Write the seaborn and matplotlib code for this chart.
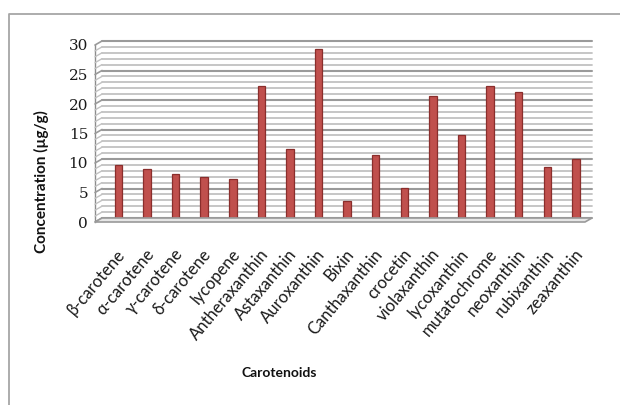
import matplotlib
matplotlib.use("Agg")
import matplotlib.pyplot as plt
import matplotlib.transforms as mtransforms
from matplotlib.lines import Line2D
from matplotlib.patches import Polygon
import seaborn as sns
import pandas as pd

carotenoids = ["β-carotene", "α-carotene", "γ-carotene", "δ-carotene", "lycopene",
               "Antheraxanthin", "Astaxanthin", "Auroxanthin", "Bixin", "Canthaxanthin",
               "crocetin", "violaxanthin", "lycoxanthin", "mutatochrome", "neoxanthin",
               "rubixanthin", "zeaxanthin"]
concentration = [9.7, 9.0, 8.2, 7.7, 7.3, 23.1, 12.4, 29.3, 3.6, 11.4,
                 5.8, 21.3, 14.8, 23.1, 22.0, 9.3, 10.7]
y_ticks = [0, 5, 10, 15, 20, 25, 30]

df = pd.DataFrame({"Carotenoids": carotenoids, "Concentration": concentration})

sns.set_theme(style="white")
plt.rcParams["font.family"] = ["Lato", "DejaVu Sans"]

W, H = 620, 405
fig = plt.figure(figsize=(W / 100, H / 100), dpi=100)

# axes placed by pixel position of the front edge of the chart box
ax_left, ax_right, ax_bottom, ax_top = 95, 585, 222, 45
ax = fig.add_axes([ax_left / W, 1 - ax_bottom / H,
                   (ax_right - ax_left) / W, (ax_bottom - ax_top) / H])

x0, x1 = -0.82, 16.32
ax.set_xlim(x0, x1)
ax.set_ylim(0, 30)

# depth offset of the back wall (pixels right / up)
dx, dy = 7, 4
back = ax.transData + mtransforms.ScaledTranslation(dx / 100, dy / 100, fig.dpi_scale_trans)

# back wall gridlines, one per unit, with the matching side wall diagonals
for v in range(0, 31):
    major = v % 5 == 0
    col = "#9a9a9a" if major else "#c2c2c2"
    ax.plot([x0, x1], [v, v], transform=back, clip_on=False,
            color=col, lw=1.5 if major else 1.3, zorder=0.5)
    p_front = ax.transData.transform((x0, v))
    p_back = back.transform((x0, v))
    fig.add_artist(Line2D([p_front[0] / W, p_back[0] / W],
                          [p_front[1] / H, p_back[1] / H],
                          color=col, lw=1.2 if major else 1.0, zorder=0.5))

# floor
pf0 = ax.transData.transform((x0, 0))
pf1 = ax.transData.transform((x1, 0))
pb1 = back.transform((x1, 0))
pb0 = back.transform((x0, 0))
floor = Polygon([[pf0[0] / W, pf0[1] / H], [pf1[0] / W, pf1[1] / H],
                 [pb1[0] / W, pb1[1] / H], [pb0[0] / W, pb0[1] / H]],
                closed=True, transform=fig.transFigure,
                facecolor="#e6e6e6", edgecolor="#9a9a9a", lw=1.2, zorder=0.6)
fig.add_artist(floor)

sns.barplot(data=df, x="Carotenoids", y="Concentration", color="#c0504d",
            saturation=1, width=0.26, edgecolor="#8a2e2c", linewidth=0.9,
            ax=ax, zorder=3)

ax.set_xlim(x0, x1)
ax.set_ylim(0, 30)
ax.set_yticks(y_ticks)
ax.set_yticklabels([str(t) for t in y_ticks], fontfamily="DejaVu Serif",
                   fontsize=11, color="#1a1a1a")
ax.tick_params(axis="y", length=4, width=1, color="#8c8c8c", pad=3, direction="inout")

ax.set_xticks(range(len(carotenoids)))
ax.set_xticklabels(carotenoids, rotation=50, ha="right", va="center",
                   rotation_mode="anchor", fontsize=12, color="#1a1a1a")
ax.tick_params(axis="x", length=0, pad=21)
shift = mtransforms.ScaledTranslation(4 / 100, 0, fig.dpi_scale_trans)
for lbl in ax.get_xticklabels():
    lbl.set_transform(lbl.get_transform() + shift)

for s in ["top", "right", "bottom"]:
    ax.spines[s].set_visible(False)
ax.spines["left"].set_color("#8c8c8c")
ax.spines["left"].set_linewidth(1.0)
ax.set_xlabel("")
ax.set_ylabel("")
ax.set_facecolor("none")

fig.text(41 / W, 1 - 182 / H, "Concentration (µg/g)", rotation=90,
         ha="center", va="center", fontsize=11, fontweight="bold", color="#111111")
fig.text(279 / W, 1 - 373 / H, "Carotenoids", ha="center", va="center",
         fontsize=10, fontweight="bold", color="#111111")

# outer chart frame
fig.add_artist(Line2D([9 / W, 9 / W, 1.0], [0.0, 1 - 14 / H, 1 - 14 / H],
                      color="#a6a6a6", lw=1.3))

fig.savefig("out.png", dpi=100)
